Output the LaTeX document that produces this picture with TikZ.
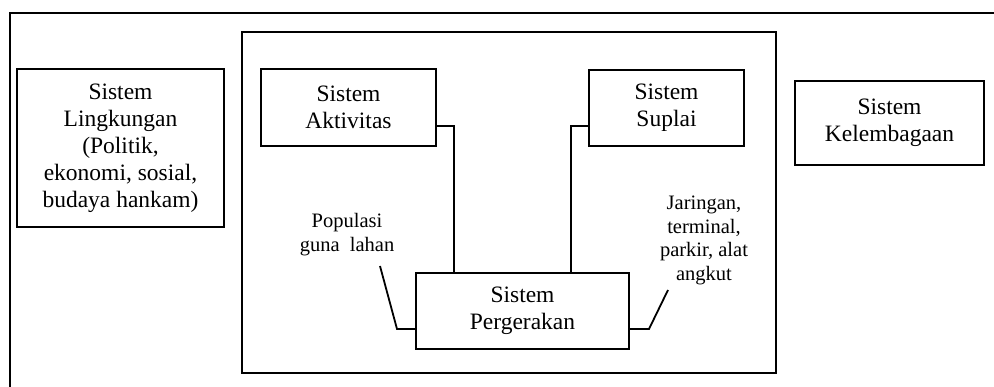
\documentclass[tikz,border=0pt]{standalone}
\usepackage{fontspec}
\setmainfont{Liberation Serif}
\begin{document}
\begin{tikzpicture}[x=1pt,y=-1pt,
  box/.style={draw, line width=1.8pt, align=center, inner sep=0pt,
    font=\fontsize{23.5}{27}\selectfont},
  lbl/.style={align=center, inner sep=0pt, font=\fontsize{20.5}{23.7}\selectfont},
  frame/.style={line width=1.7pt},
  conn/.style={line width=1.8pt}]
\useasboundingbox (0,0) rectangle (994,387);
% outer frame (top and left edge)
\coordinate (oTL) at (10,13);
\coordinate (oTR) at (994,13);
\coordinate (oBL) at (10,387);
\draw[frame] (oTR) -- (oTL) -- (oBL);
% inner frame
\node[draw, line width=1.7pt, minimum width=534, minimum height=341, inner sep=0pt] (inner) at (509,202.5) {};
% boxes
\node[box, minimum width=207, minimum height=158] (ling) at (120.5,148) {Sistem\\Lingkungan\\(Politik,\\ekonomi, sosial,\\budaya hankam)};
\node[box, minimum width=175, minimum height=77] (akt) at (348.5,107.5) {Sistem\\Aktivitas};
\node[box, minimum width=155, minimum height=76] (sup) at (666.5,108) {Sistem\\Suplai};
\node[box, minimum width=189, minimum height=84] (kel) at (889.5,123) {Sistem\\Kelembagaan};
\node[box, minimum width=213, minimum height=76] (perg) at (522.5,311) {Sistem\\Pergerakan};
% labels
\node[lbl] (pop) at (347,234.5) {Populasi\\guna\ \ lahan};
\node[lbl] (jar) at (704,240.5) {Jaringan,\\terminal,\\parkir, alat\\angkut};
% connectors
\coordinate (a1) at (454,126);
\coordinate (s1) at (571,126);
\draw[conn] (akt.east |- a1) -- (a1) -- (a1 |- perg.north);
\draw[conn] (sup.west |- s1) -- (s1) -- (s1 |- perg.north);
\coordinate (p1) at (380,266);
\coordinate (p2) at (397,329);
\draw[conn] (p1) -- (p2) -- (perg.west |- p2);
\coordinate (j1) at (668,290);
\coordinate (j2) at (649,329);
\draw[conn] (perg.east |- j2) -- (j2) -- (j1);
\end{tikzpicture}
\end{document}
